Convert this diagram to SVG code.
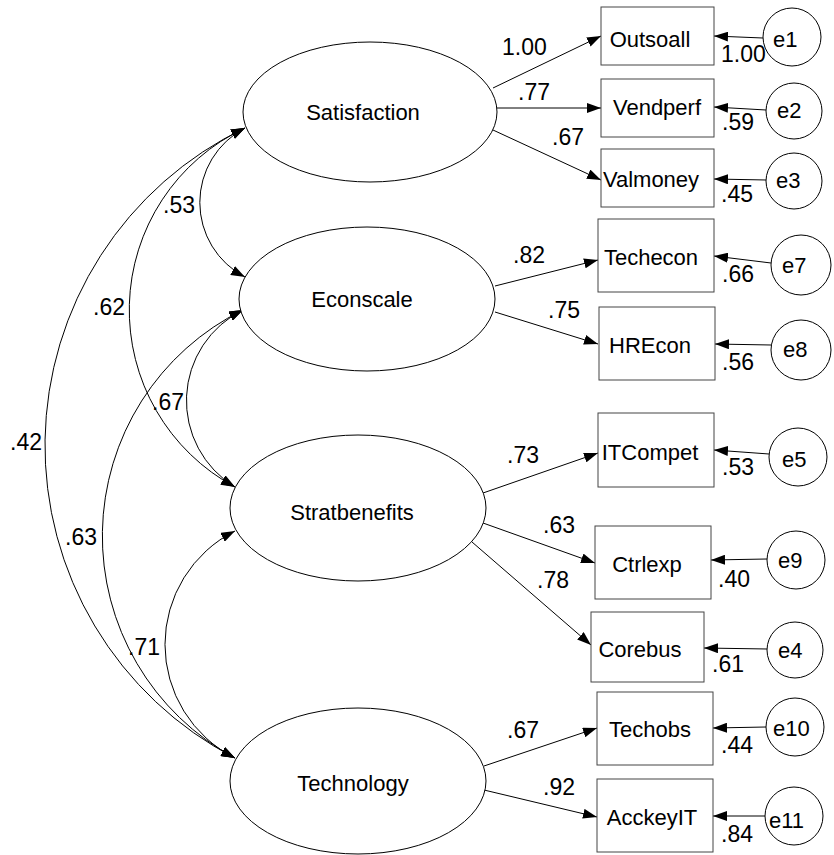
<svg xmlns="http://www.w3.org/2000/svg" width="834" height="855" viewBox="0 0 834 855">
<defs>
<marker id="ah" viewBox="0 0 14 10" refX="14" refY="5" markerWidth="14" markerHeight="10" markerUnits="userSpaceOnUse" orient="auto-start-reverse"><path d="M0,0 L14,5 L0,10 z" fill="#000"/></marker>
<style>
.lat{fill:#fff;stroke:#000;stroke-width:1}
.obs{fill:#fff;stroke:#444;stroke-width:1}
.err{fill:#fff;stroke:#000;stroke-width:1}
.t{font-family:"Liberation Sans",Arial,sans-serif;font-size:22px;fill:#000}
.c{text-anchor:middle}
.n{font-family:"Liberation Sans",Arial,sans-serif;font-size:23px;fill:#000}
.ar{fill:none;stroke:#000;stroke-width:1;marker-end:url(#ah)}
.cv{fill:none;stroke:#000;stroke-width:1;marker-start:url(#ah);marker-end:url(#ah)}
</style>
</defs>
<rect width="834" height="855" fill="#fff"/>
<g id="connectors">
<path class="ar" d="M493,88 L601,36"/>
<path class="ar" d="M497,108 L601,108"/>
<path class="ar" d="M493,130 L601,180"/>
<path class="ar" d="M495,286 L598,260"/>
<path class="ar" d="M495,312 L598,344"/>
<path class="ar" d="M483,493 L598,453"/>
<path class="ar" d="M483,523 L595,563"/>
<path class="ar" d="M472,542 L591,645"/>
<path class="ar" d="M484,766 L597,728"/>
<path class="ar" d="M484,790 L597,817"/>
<path class="ar" d="M763,38 L714,36"/>
<path class="ar" d="M766,110 L714,107"/>
<path class="ar" d="M766,180 L714,179"/>
<path class="ar" d="M771,263 L714,256"/>
<path class="ar" d="M771,345 L715,344"/>
<path class="ar" d="M769,454 L714,450"/>
<path class="ar" d="M767,559 L711,560"/>
<path class="ar" d="M767,649 L704,648"/>
<path class="ar" d="M766,727 L713,728"/>
<path class="ar" d="M765,816 L713,816"/>
<path class="cv" d="M245,128 A84,84 0 0 0 245,277"/>
<path class="cv" d="M245,128 A201,201 0 0 0 235,487"/>
<path class="cv" d="M245,128 A352,352 0 0 0 235,758"/>
<path class="cv" d="M243,310 A101,101 0 0 0 235,487"/>
<path class="cv" d="M243,310 A252,252 0 0 0 235,758"/>
<path class="cv" d="M235,531 A127,127 0 0 0 235,758"/>
<text class="n" x="502" y="55">1.00</text>
<text class="n" x="518" y="100">.77</text>
<text class="n" x="552" y="145">.67</text>
<text class="n" x="513" y="263">.82</text>
<text class="n" x="548" y="318">.75</text>
<text class="n" x="507" y="463">.73</text>
<text class="n" x="543" y="533">.63</text>
<text class="n" x="537" y="588">.78</text>
<text class="n" x="507" y="738">.67</text>
<text class="n" x="543" y="795">.92</text>
<text class="n" x="163" y="213">.53</text>
<text class="n" x="93" y="315">.62</text>
<text class="n" x="10" y="450">.42</text>
<text class="n" x="152" y="410">.67</text>
<text class="n" x="65" y="545">.63</text>
<text class="n" x="128" y="655">.71</text>
</g>
<g id="Satisfaction"><ellipse class="lat" cx="370" cy="112" rx="127" ry="70"/><text class="t c" x="363" y="120">Satisfaction</text></g>
<g id="Econscale"><ellipse class="lat" cx="367" cy="299" rx="128" ry="72"/><text class="t c" x="362" y="307">Econscale</text></g>
<g id="Stratbenefits"><ellipse class="lat" cx="358" cy="508" rx="128" ry="73"/><text class="t c" x="352" y="520">Stratbenefits</text></g>
<g id="Technology"><ellipse class="lat" cx="358" cy="781" rx="128" ry="73"/><text class="t c" x="353" y="791">Technology</text></g>
<g id="Outsoall"><rect class="obs" x="601" y="7" width="113" height="58"/><text class="t c" x="650" y="47">Outsoall</text></g>
<g id="Vendperf"><rect class="obs" x="601" y="79" width="113" height="58"/><text class="t c" x="657" y="115">Vendperf</text></g>
<g id="Valmoney"><rect class="obs" x="601" y="149" width="113" height="58"/><text class="t c" x="651" y="187">Valmoney</text></g>
<g id="Techecon"><rect class="obs" x="598" y="219" width="116" height="73"/><text class="t c" x="651" y="265">Techecon</text></g>
<g id="HREcon"><rect class="obs" x="599" y="307" width="116" height="73"/><text class="t c" x="650" y="353">HREcon</text></g>
<g id="ITCompet"><rect class="obs" x="598" y="413" width="116" height="74"/><text class="t c" x="650" y="460">ITCompet</text></g>
<g id="Ctrlexp"><rect class="obs" x="595" y="526" width="116" height="73"/><text class="t c" x="647" y="572">Ctrlexp</text></g>
<g id="Corebus"><rect class="obs" x="591" y="612" width="113" height="70"/><text class="t c" x="640" y="657">Corebus</text></g>
<g id="Techobs"><rect class="obs" x="597" y="692" width="116" height="73"/><text class="t c" x="650" y="737">Techobs</text></g>
<g id="AcckeyIT"><rect class="obs" x="597" y="779" width="116" height="73"/><text class="t c" x="652" y="825">AcckeyIT</text></g>
<g id="e1"><circle class="err" cx="792" cy="37" r="29"/><text class="t" x="773" y="47">e1</text></g>
<g id="e2"><circle class="err" cx="794" cy="111" r="28"/><text class="t" x="777" y="118">e2</text></g>
<g id="e3"><circle class="err" cx="794" cy="181" r="28"/><text class="t" x="776" y="188">e3</text></g>
<g id="e7"><circle class="err" cx="801" cy="265" r="30"/><text class="t" x="782" y="273">e7</text></g>
<g id="e8"><circle class="err" cx="801" cy="350" r="30"/><text class="t" x="783" y="357">e8</text></g>
<g id="e5"><circle class="err" cx="798" cy="457" r="29"/><text class="t" x="782" y="467">e5</text></g>
<g id="e9"><circle class="err" cx="796" cy="560" r="29"/><text class="t" x="778" y="568">e9</text></g>
<g id="e4"><circle class="err" cx="795" cy="650" r="28"/><text class="t" x="778" y="658">e4</text></g>
<g id="e10"><circle class="err" cx="795" cy="727" r="29"/><text class="t" x="773" y="736">e10</text></g>
<g id="e11"><circle class="err" cx="794" cy="816" r="29"/><text class="t" x="769" y="828">e11</text></g>
<g id="variances">
<text class="n" x="721" y="62">1.00</text>
<text class="n" x="722" y="130">.59</text>
<text class="n" x="721" y="202">.45</text>
<text class="n" x="722" y="282">.66</text>
<text class="n" x="722" y="370">.56</text>
<text class="n" x="722" y="475">.53</text>
<text class="n" x="718" y="587">.40</text>
<text class="n" x="712" y="672">.61</text>
<text class="n" x="721" y="753">.44</text>
<text class="n" x="721" y="842">.84</text>
</g>
</svg>
